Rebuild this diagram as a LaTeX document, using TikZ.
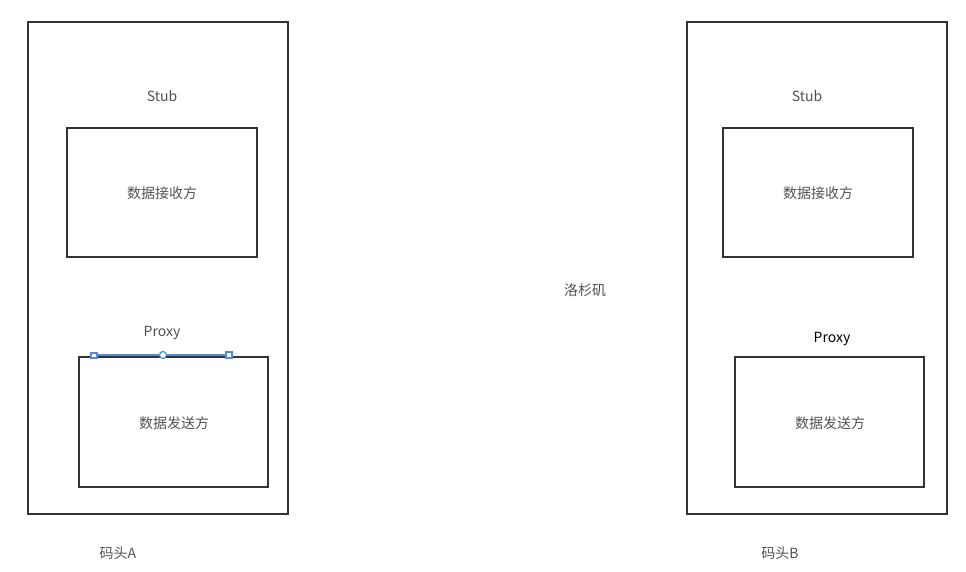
\documentclass[tikz,border=0pt]{standalone}
\usepackage{fontspec}
\setmainfont{Noto Sans CJK SC}
\begin{document}
\begin{tikzpicture}[x=1pt,y=-1pt,
  frame/.style={draw=black!80,line width=1.8pt},
  lbl/.style={text=black!68,font=\fontsize{14}{16}\selectfont,inner sep=0pt},
  sel/.style={draw=blue!40!cyan!70!black!60,line width=1.2pt}]
\useasboundingbox (0,0) rectangle (966,572);
% left pier
\draw[frame] (28,22) rectangle (288,514);
\node[lbl] (stubA) at (162,96) {Stub};
\draw[frame] (67,128) rectangle (257,257);
\node[lbl] (recvA) at (162,193) {数据接收方};
\node[lbl] (proxyA) at (162,333) {Proxy};
\draw[frame] (79,357) rectangle (268,487);
\node[lbl] (sendA) at (174,423) {数据发送方};
\node[lbl] (pierA) at (118,553) {码头A};
% selection handles on left sender box
\draw[sel,draw=cyan!50!blue!70] (94,355) -- (230,355);
\draw[sel,draw=cyan!50!blue!70,fill=white] (163,355) circle (3.5);
\draw[sel,draw=cyan!50!blue!70,fill=white] (226,352) rectangle (232,358);
\draw[sel,draw=cyan!50!blue!70,fill=white] (91,353) rectangle (97,358);
% middle
\node[lbl] (la) at (585,290) {洛杉矶};
% right pier
\draw[frame] (687,22) rectangle (947,514);
\node[lbl] (stubB) at (807,96) {Stub};
\draw[frame] (723,128) rectangle (913,257);
\node[lbl] (recvB) at (818,193) {数据接收方};
\node[lbl,text=black] (proxyB) at (832,339) {Proxy};
\draw[frame] (735,357) rectangle (924,487);
\node[lbl] (sendB) at (830,423) {数据发送方};
\node[lbl] (pierB) at (780,553) {码头B};
\end{tikzpicture}
\end{document}
